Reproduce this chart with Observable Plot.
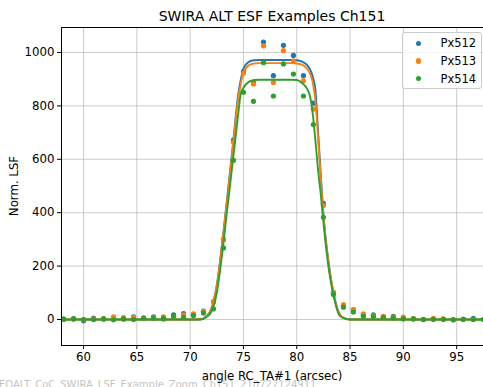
<!DOCTYPE html>
<html><head><meta charset="utf-8">
<script src="https://cdn.jsdelivr.net/npm/d3@7"></script>
<script src="https://cdn.jsdelivr.net/npm/@observablehq/plot@0.6"></script>
<style>
html,body{margin:0;padding:0;background:#fff;}
#wrap{position:relative;width:483px;height:387px;overflow:hidden;font-family:"DejaVu Sans",sans-serif;color:#000;}
#wrap svg{position:absolute;left:0;top:0;}
.t{position:absolute;white-space:nowrap;line-height:1;}
</style></head><body>
<div id="wrap"></div>
<script>
// sample positions (arcsec)
const angle = [58.13, 59.06, 60.00, 60.94, 61.88, 62.81, 63.75, 64.69, 65.63, 66.56, 67.50, 68.44, 69.38, 70.31, 71.25, 72.19, 73.13, 74.06, 75.00, 75.94, 76.88, 77.81, 78.75, 79.69, 80.63, 81.56, 82.50, 83.44, 84.38, 85.31, 86.25, 87.19, 88.13, 89.06, 90.00, 90.94, 91.88, 92.81, 93.75, 94.69, 95.63, 96.56, 97.50];
const px512 = [0,3,-5,5,2,2,2,10,5,10,2,17,22,20,31,66,300,672,928,886,1039,913,1027,989,913,810,435,102,52,37,17,17,10,12,5,3,0,1,1,-1,1,4,0];
const px513 = [0,2,-1,2,2,10,7,7,5,7,10,10,17,20,30,68,299,664,922,882,1025,888,1007,969,894,788,427,102,56,37,21,14,12,9,9,3,1,4,2,-1,1,1,0];
const px514 = [2,2,0,0,2,-1,2,0,5,5,5,12,8,15,24,40,268,596,851,817,962,837,957,919,837,730,383,94,46,28,12,11,7,6,2,2,0,1,1,-1,1,0,0];
// fitted curves
const fitX      = [57.9,70,71,71.5,72,72.5,73,73.5,74,74.5,74.75,75,75.5,76,76.5,77,79.5,80,80.5,81,81.25,81.5,81.75,82,82.25,82.5,83,83.5,84,84.5,85,86,97.6];
const fitBlue   = [0,0,1,12,42,130,285,465,650,840,898,940,965,971,972,972,972,971,966,952,937,910,860,705,545,395,210,90,22,4,0,0,0];
const fitOrange = [0,0,1,11,40,125,280,458,640,825,883,925,952,959,960,960,960,959,954,938,920,888,820,680,530,390,205,88,20,4,0,0,0];
const fitGreen  = [0,0,0,8,30,100,245,420,592,767,846,868,890,897,898,898,898,897,886,862,835,770,670,560,470,365,190,80,15,3,0,0,0];
const seriesNames = ["Px512","Px513","Px514"];
const colors = ["#1f77b4","#ff7f0e","#2ca02c"];
const xTicks = [60,65,70,75,80,85,90,95];
const yTicks = [0,200,400,600,800,1000];
const title = "SWIRA ALT ESF Examples Ch151";
const xLabel = "angle RC_TA#1 (arcsec)";
const yLabel = "Norm. LSF";
const footer = "EOALT_CoC_SWIRA_LSF_Example_Zoom_Ch151_210727124911";

const pts = [px512, px513, px514];
const fits = [fitBlue, fitOrange, fitGreen];

const marks = [
  Plot.gridX(xTicks, {stroke:"#b0b0b0", strokeOpacity:0.65, strokeWidth:1}),
  Plot.gridY(yTicks, {stroke:"#b0b0b0", strokeOpacity:0.65, strokeWidth:1})
];
seriesNames.forEach((s, i) => {
  marks.push(Plot.dot(angle.map((a, j) => ({a, v: pts[i][j]})), {x:"a", y:"v", r:2.6, fill:colors[i], stroke:"none", clip:true}));
  marks.push(Plot.line(fitX.map((a, j) => ({a, v: fits[i][j]})), {x:"a", y:"v", stroke:colors[i], strokeWidth:1.9, curve:"monotone-x", clip:true}));
});
marks.push(Plot.frame({stroke:"#000", strokeWidth:1}));
marks.push(Plot.axisX(xTicks, {tickSize:4, tickPadding:3, label:null, tickFormat:d => String(d)}));
marks.push(Plot.axisY(yTicks, {tickSize:4, tickPadding:3, label:null, tickFormat:d => String(d)}));

const chart = Plot.plot({
  width:483, height:387,
  marginLeft:61, marginRight:0, marginTop:27, marginBottom:42,
  x:{domain:[57.93,97.52]},
  y:{domain:[-97.4,1093.6]},
  style:{fontFamily:"DejaVu Sans, sans-serif", fontSize:"11.75px", color:"#000", background:"transparent"},
  marks
});
const wrap = document.getElementById("wrap");
wrap.appendChild(chart);

function addText(txt, css) {
  const d = document.createElement("div");
  d.className = "t";
  d.textContent = txt;
  Object.assign(d.style, css);
  wrap.appendChild(d);
  return d;
}
addText(footer, {left:"-1px", top:"380px", fontSize:"10px", color:"#c4c4c4"});
addText(title, {left:"272px", top:"9.3px", fontSize:"14px", transform:"translateX(-50%)"});
addText(xLabel, {left:"272px", top:"370.6px", fontSize:"11.75px", transform:"translateX(-50%)"});
addText(yLabel, {left:"15px", top:"186px", fontSize:"11.75px", transform:"translate(-50%,-50%) rotate(-90deg)"});

// legend
const leg = document.createElement("div");
Object.assign(leg.style, {position:"absolute", left:"402px", top:"32px", width:"80px", height:"57px", boxSizing:"border-box",
  border:"1px solid #cccccc", borderRadius:"3px", background:"rgba(255,255,255,0.8)"});
wrap.appendChild(leg);
seriesNames.forEach((s, i) => {
  const cy = 43.3 + i * 17.7;
  const dot = document.createElement("div");
  Object.assign(dot.style, {position:"absolute", left:(418.3 - 2.6) + "px", top:(cy - 2.6) + "px", width:"5.2px", height:"5.2px", borderRadius:"50%", background:colors[i]});
  wrap.appendChild(dot);
  addText(s, {left:"440.5px", top:(cy + 4.8 - 0.846 * 11.5) + "px", fontSize:"11.5px"});
});
</script></body></html>
